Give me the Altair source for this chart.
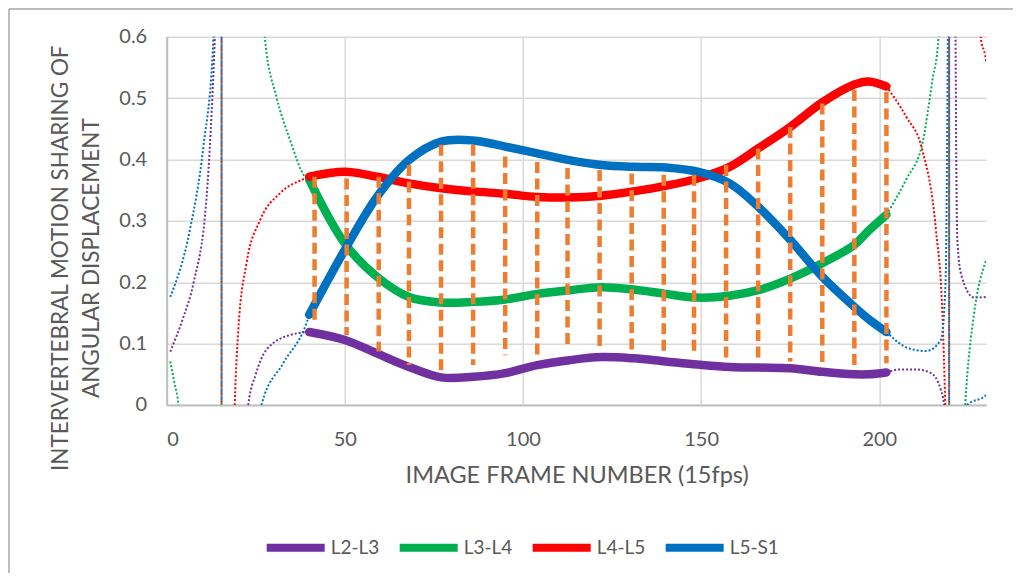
import altair as alt
import pandas as pd

# ---------------- data ----------------
series_names = ["L2-L3", "L3-L4", "L4-L5", "L5-S1"]
series_colors = ["#7030A0", "#00B050", "#FF0000", "#0070C0"]

frames = [40, 50, 59, 68, 77, 86, 95, 104, 113, 122, 131, 140, 149, 158, 166, 175, 184, 193, 197, 202]
l2_l3 = [0.119, 0.106, 0.084, 0.062, 0.045, 0.046, 0.052, 0.065, 0.073, 0.078, 0.076, 0.071, 0.066, 0.062, 0.061, 0.060, 0.054, 0.050, 0.050, 0.053]
l3_l4 = [0.367, 0.263, 0.209, 0.176, 0.167, 0.168, 0.172, 0.181, 0.187, 0.192, 0.188, 0.181, 0.175, 0.178, 0.187, 0.206, 0.231, 0.261, 0.284, 0.310]
l4_l5 = [0.372, 0.380, 0.372, 0.361, 0.353, 0.348, 0.344, 0.339, 0.338, 0.341, 0.348, 0.357, 0.369, 0.388, 0.418, 0.453, 0.493, 0.522, 0.527, 0.519]
l5_s1 = [0.147, 0.253, 0.339, 0.399, 0.429, 0.431, 0.421, 0.410, 0.399, 0.391, 0.388, 0.387, 0.380, 0.361, 0.323, 0.269, 0.209, 0.160, 0.140, 0.119]

# orange dashed range lines
range_frames = [41.5, 50.5, 59.5, 68, 77, 86, 95, 104, 112.5, 121.5, 130.5, 139.5, 148, 157, 166, 175, 184, 193, 202]
range_top = [0.372, 0.369, 0.372, 0.391, 0.424, 0.424, 0.405, 0.396, 0.386, 0.383, 0.377, 0.375, 0.375, 0.391, 0.418, 0.453, 0.491, 0.513, 0.510]
range_bottom = [0.134, 0.114, 0.087, 0.065, 0.052, 0.065, 0.081, 0.081, 0.095, 0.092, 0.087, 0.084, 0.084, 0.073, 0.071, 0.071, 0.068, 0.060, 0.068]

# dotted trend-line pieces (frame, value)
trend_l2_l3 = [
    [(1, 0.087), (4.5, 0.14), (7.5, 0.198), (11.2, 0.339), (13.5, 0.597), (13.9, 0.66)],
    [(22.7, -0.02), (22.9, 0.0), (25, 0.05), (28, 0.090), (34.6, 0.114), (40, 0.119)],
    [(202, 0.053), (206, 0.058), (210.3, 0.058), (214.5, 0.052), (217.3, 0.024), (218.2, 0.0), (218.4, -0.02)],
    [(221.3, 0.66), (221.4, 0.597), (221.6, 0.40), (221.9, 0.27), (223.0, 0.212), (226.6, 0.175), (230, 0.176)],
]
trend_l3_l4 = [
    [(1, 0.071), (2.2, 0.035), (3.3, 0.0), (3.6, -0.02)],
    [(27.3, 0.66), (27.6, 0.595), (30.8, 0.502), (34.6, 0.432), (38.8, 0.372), (40, 0.367)],
    [(202, 0.310), (207.5, 0.367), (212.1, 0.426), (214.9, 0.529), (216.6, 0.597), (217, 0.66)],
    [(223.9, -0.02), (224.1, 0.0), (226.6, 0.149), (229.7, 0.231), (230, 0.236)],
]
trend_l4_l5 = [
    [(19.0, -0.02), (19.1, 0.0), (20.1, 0.122), (22.4, 0.231), (26.2, 0.301), (31.8, 0.345), (38.8, 0.369), (40, 0.372)],
    [(202, 0.519), (207.5, 0.47), (212.1, 0.415), (215.9, 0.285), (217.7, 0.149), (218.5, 0.003), (218.6, -0.02)],
    [(228.3, 0.66), (228.5, 0.597), (229.7, 0.57), (230, 0.56)],
]
trend_l5_s1 = [
    [(1, 0.176), (6.5, 0.285), (10.3, 0.421), (13.1, 0.597), (13.5, 0.66)],
    [(26.4, -0.02), (26.6, 0.0), (32.7, 0.068), (39.2, 0.133), (40, 0.147)],
    [(202, 0.119), (208.4, 0.092), (213.1, 0.088), (217.3, 0.106), (218.6, 0.2), (219.3, 0.66)],
    [(224.5, -0.02), (224.7, 0.0), (229.9, 0.016), (230, 0.017)],
]
# near-vertical runs of the trend lines
vertical_frames = [15.4, 219.6]

x_ticks = [0, 50, 100, 150, 200]
y_ticks = [0, 0.1, 0.2, 0.3, 0.4, 0.5, 0.6]
x_title = "IMAGE FRAME NUMBER (15fps)"
y_title = ["INTERVERTEBRAL MOTION SHARING OF", "ANGULAR DISPLACEMENT"]

# ---------------- tables ----------------
main_rows = []
for name, vals in zip(series_names, [l2_l3, l3_l4, l4_l5, l5_s1]):
    for f, v in zip(frames, vals):
        main_rows.append({"frame": f, "value": v, "series": name})
main_df = pd.DataFrame(main_rows)

range_df = pd.DataFrame({"frame": range_frames, "top": range_top, "bottom": range_bottom})

# ---------------- scales / axes ----------------
FONT = "Lato"
GREY = "#595959"
xscale = alt.Scale(domain=[0, 230], nice=False, zero=False)
yscale = alt.Scale(domain=[0, 0.6], nice=False)
xaxis = alt.Axis(values=x_ticks, title=x_title, grid=True, labelPadding=25, titleFontSize=23.5,
                 titleBaseline="alphabetic", titleY=78, titleX=410, titleAnchor="middle")
yaxis = alt.Axis(values=y_ticks, title=y_title, format=".1~f", grid=True, labelPadding=20,
                 titleFontSize=22.5, titleAngle=270, titleAlign="center", titleBaseline="middle",
                 titleX=-106.5, titleY=221, titleLineHeight=31)


def X(field):
    return alt.X(f"{field}:Q", scale=xscale, axis=xaxis)


def Y(field):
    return alt.Y(f"{field}:Q", scale=yscale, axis=yaxis)


# dotted trend lines and their near-vertical runs, one layer per series (constant colour)
trend_layers = []
for i, (name, col, segs) in enumerate(zip(series_names, series_colors,
                                          [trend_l2_l3, trend_l3_l4, trend_l4_l5, trend_l5_s1])):
    vdf = pd.DataFrame({"frame": vertical_frames, "top": [0.6] * len(vertical_frames),
                        "bottom": [0.0] * len(vertical_frames)})
    trend_layers.append(
        alt.Chart(vdf).mark_rule(color=col, strokeWidth=2, strokeDash=[2, 6], strokeDashOffset=i * 2)
        .encode(x=X("frame"), y=Y("top"), y2="bottom")
    )
    rows = []
    for si, seg in enumerate(segs):
        for k, (f, v) in enumerate(seg):
            rows.append({"frame": f, "value": v, "seg": si, "k": k})
    trend_layers.append(
        alt.Chart(pd.DataFrame(rows)).mark_line(color=col, strokeWidth=2, strokeDash=[2, 2],
                                                interpolate="monotone", clip=True)
        .encode(x=X("frame"), y=Y("value"), detail="seg:N", order="k:Q")
    )

main = alt.Chart(main_df).mark_line(strokeWidth=8.5, strokeCap="round", strokeJoin="round",
                                    interpolate="catmull-rom").encode(
    x=X("frame"),
    y=Y("value"),
    color=alt.Color("series:N", scale=alt.Scale(domain=series_names, range=series_colors),
                    legend=alt.Legend(title=None, orient="none", legendX=96, legendY=478,
                                      direction="horizontal", symbolType="stroke", symbolSize=3364,
                                      symbolStrokeWidth=8, labelFont=FONT, labelFontSize=19,
                                      labelColor=GREY, labelOffset=2, columnPadding=4, padding=0)),
)

ranges = alt.Chart(range_df).mark_rule(color="#ED7D31", strokeWidth=4.5, strokeDash=[11, 5.5]).encode(
    x=X("frame"), y=Y("top"), y2="bottom"
)

one = pd.DataFrame({"a": [0]})
frame_v = alt.Chart(one).mark_rule(color="#A6A6A6", strokeWidth=1.5).encode(
    x=alt.value(-157.7), y=alt.value(-27.7), y2=alt.value(600))
frame_h = alt.Chart(one).mark_rule(color="#A6A6A6", strokeWidth=1.5).encode(
    x=alt.value(-157.7), x2=alt.value(900), y=alt.value(-27.7))

chart = alt.layer(frame_v, frame_h, *trend_layers, main, ranges).properties(
    width=819.5,
    height=368.3,
    padding={"left": 158.7, "top": 28.7, "right": 27, "bottom": 168},
    autosize=alt.AutoSizeParams(type="none"),
).configure_axis(
    labelFont=FONT, titleFont=FONT, labelFontSize=20, titleFontWeight="normal",
    labelColor=GREY, titleColor=GREY, gridColor="#D9D9D9", gridWidth=1.5,
    domainColor="#BFBFBF", domainWidth=2, ticks=False, tickSize=0,
).configure_view(stroke=None)

chart.save("out.html", embed_options={"renderer": "svg", "actions": False})
